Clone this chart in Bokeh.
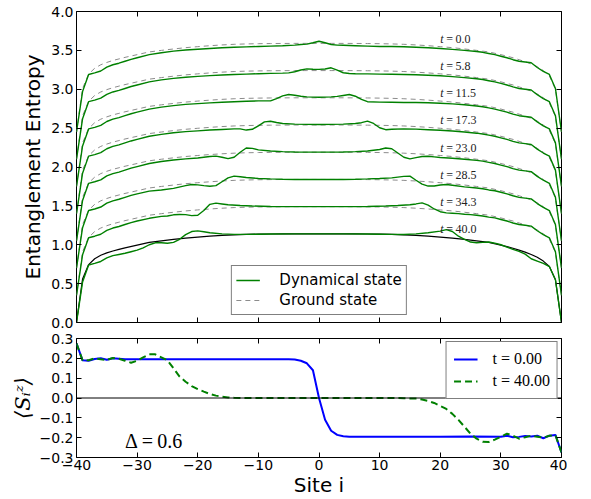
from bokeh.plotting import figure
from bokeh.layouts import column
from bokeh.models import (Range1d, FixedTicker, CustomJSTickFormatter, LinearAxis,
                          Legend, LegendItem, Span)
from bokeh.core.properties import value
from bokeh.embed import file_html
from bokeh.resources import INLINE

# ---------------- data ----------------
times = [0.0, 5.8, 11.5, 17.3, 23.0, 28.5, 34.3, 40.0]
offsets = [2.45, 2.10, 1.75, 1.40, 1.05, 0.70, 0.35, 0.0]

ground_state = [(-40, 0.0), (-39, 0.56), (-38, 0.745), (-37, 0.82), (-36, 0.865), (-35, 0.895),
                (-34, 0.92), (-33, 0.94), (-32, 0.96), (-30, 0.995), (-28, 1.03), (-26, 1.05),
                (-24, 1.068), (-22, 1.085), (-20, 1.098), (-18, 1.11), (-16, 1.12), (-14, 1.128),
                (-12, 1.133), (-10, 1.136), (-8, 1.138), (-6, 1.139), (-4, 1.14), (-2, 1.14),
                (0, 1.14), (2, 1.14), (4, 1.14), (6, 1.139), (8, 1.138), (10, 1.136), (12, 1.133),
                (14, 1.128), (16, 1.12), (18, 1.11), (20, 1.098), (22, 1.085), (24, 1.068),
                (26, 1.05), (28, 1.03), (30, 0.995), (32, 0.955), (33, 0.93), (34, 0.905),
                (35, 0.875), (36, 0.84), (37, 0.79), (38, 0.72), (39, 0.55), (40, 0.0)]

dyn_t00 = [(-40, 0.0), (-39, 0.52), (-38, 0.74), (-37, 0.76), (-36, 0.785), (-35, 0.835), (-34, 0.865),
           (-33, 0.885), (-32, 0.91), (-31, 0.935), (-30, 0.955), (-28, 0.995), (-26, 1.02), (-24, 1.04),
           (-22, 1.055), (-20, 1.065), (-18, 1.075), (-16, 1.083), (-14, 1.09), (-12, 1.095), (-10, 1.1),
           (-8, 1.105), (-6, 1.11), (-4, 1.118), (-3, 1.125), (-2, 1.13), (-1, 1.148), (0, 1.168),
           (1, 1.148), (2, 1.126), (3, 1.117), (4, 1.115), (6, 1.11), (8, 1.105), (10, 1.1), (12, 1.1),
           (14, 1.097), (16, 1.09), (18, 1.083), (20, 1.075), (22, 1.063), (24, 1.05), (26, 1.035),
           (27, 1.025), (28, 1.01), (29, 0.995), (30, 0.975), (31, 0.955), (32, 0.93), (33, 0.91),
           (34, 0.9), (35, 0.89), (36, 0.83), (37, 0.78), (38, 0.74), (39, 0.56), (40, 0.0)]

dyn_t06 = [(-40, 0.0), (-39, 0.52), (-38, 0.74), (-37, 0.76), (-36, 0.785), (-35, 0.835), (-34, 0.865),
           (-33, 0.885), (-32, 0.91), (-31, 0.935), (-30, 0.955), (-28, 0.995), (-26, 1.02), (-24, 1.04),
           (-22, 1.055), (-20, 1.065), (-18, 1.075), (-16, 1.083), (-14, 1.09), (-12, 1.095), (-10, 1.1),
           (-8, 1.104), (-6, 1.107), (-5, 1.11), (-4, 1.125), (-3, 1.148), (-2, 1.162), (-1, 1.157),
           (0, 1.155), (1, 1.16), (2, 1.176), (3, 1.145), (4, 1.112), (5, 1.103), (6, 1.1), (8, 1.098),
           (10, 1.095), (12, 1.093), (14, 1.09), (16, 1.087), (18, 1.08), (20, 1.073), (22, 1.063),
           (24, 1.05), (26, 1.035), (27, 1.025), (28, 1.01), (29, 0.995), (30, 0.975), (31, 0.955),
           (32, 0.93), (33, 0.91), (34, 0.9), (35, 0.89), (36, 0.83), (37, 0.78), (38, 0.74),
           (39, 0.56), (40, 0.0)]

dyn_t12 = [(-40, 0.0), (-39, 0.52), (-38, 0.74), (-37, 0.76), (-36, 0.785), (-35, 0.835), (-34, 0.865),
           (-33, 0.885), (-32, 0.91), (-31, 0.935), (-30, 0.955), (-28, 0.995), (-26, 1.02), (-24, 1.04),
           (-22, 1.055), (-20, 1.065), (-18, 1.075), (-16, 1.083), (-14, 1.09), (-12, 1.095), (-10, 1.1),
           (-8, 1.1), (-7, 1.13), (-6, 1.165), (-5, 1.182), (-4, 1.172), (-3, 1.16), (-2, 1.152),
           (0, 1.148), (2, 1.152), (3, 1.158), (4, 1.17), (5, 1.182), (6, 1.16), (7, 1.12), (8, 1.09),
           (10, 1.085), (12, 1.083), (14, 1.08), (16, 1.08), (18, 1.077), (20, 1.07), (22, 1.062),
           (24, 1.05), (26, 1.035), (27, 1.025), (28, 1.01), (29, 0.995), (30, 0.975), (31, 0.955),
           (32, 0.93), (33, 0.91), (34, 0.9), (35, 0.89), (36, 0.83), (37, 0.78), (38, 0.74),
           (39, 0.56), (40, 0.0)]

dyn_t17 = [(-40, 0.0), (-39, 0.52), (-38, 0.74), (-37, 0.76), (-36, 0.785), (-35, 0.835), (-34, 0.865),
           (-33, 0.885), (-32, 0.91), (-31, 0.935), (-30, 0.955), (-28, 0.995), (-26, 1.02), (-24, 1.04),
           (-22, 1.055), (-20, 1.065), (-18, 1.075), (-16, 1.083), (-14, 1.09), (-13, 1.09),
           (-12, 1.075), (-11, 1.085), (-10, 1.13), (-9, 1.18), (-8, 1.188), (-7, 1.172), (-6, 1.16),
           (-4, 1.152), (-2, 1.148), (0, 1.147), (2, 1.148), (4, 1.152), (6, 1.16), (7, 1.17),
           (8, 1.19), (9, 1.16), (10, 1.105), (11, 1.08), (12, 1.085), (14, 1.09), (16, 1.087),
           (18, 1.08), (20, 1.073), (22, 1.063), (24, 1.05), (26, 1.035), (27, 1.025), (28, 1.01),
           (29, 0.995), (30, 0.975), (31, 0.955), (32, 0.93), (33, 0.91), (34, 0.9), (35, 0.89),
           (36, 0.83), (37, 0.78), (38, 0.74), (39, 0.56), (40, 0.0)]

dyn_t23 = [(-40, 0.0), (-39, 0.52), (-38, 0.74), (-37, 0.76), (-36, 0.785), (-35, 0.835), (-34, 0.865),
           (-33, 0.885), (-32, 0.91), (-31, 0.935), (-30, 0.955), (-28, 0.995), (-26, 1.02), (-24, 1.04),
           (-22, 1.055), (-20, 1.065), (-18, 1.085), (-17, 1.09), (-16, 1.075), (-15, 1.058),
           (-14, 1.075), (-13, 1.14), (-12, 1.195), (-11, 1.19), (-10, 1.17), (-8, 1.155), (-6, 1.148),
           (-4, 1.143), (-2, 1.141), (0, 1.141), (2, 1.141), (4, 1.143), (6, 1.148), (8, 1.155),
           (10, 1.175), (11, 1.195), (12, 1.185), (13, 1.13), (14, 1.075), (15, 1.055), (16, 1.07),
           (17, 1.085), (18, 1.088), (19, 1.08), (20, 1.072), (22, 1.062), (24, 1.05), (26, 1.035),
           (27, 1.025), (28, 1.01), (29, 0.995), (30, 0.975), (31, 0.955), (32, 0.93), (33, 0.91),
           (34, 0.9), (35, 0.89), (36, 0.83), (37, 0.78), (38, 0.74), (39, 0.56), (40, 0.0)]

dyn_t28 = [(-40, 0.0), (-39, 0.52), (-38, 0.74), (-37, 0.76), (-36, 0.785), (-35, 0.835), (-34, 0.865),
           (-33, 0.885), (-32, 0.91), (-31, 0.935), (-30, 0.955), (-28, 0.99), (-26, 1.005),
           (-24, 1.025), (-22, 1.06), (-21, 1.075), (-20, 1.07), (-19, 1.06), (-18, 1.052), (-17, 1.06),
           (-16, 1.11), (-15, 1.16), (-14, 1.182), (-13, 1.175), (-12, 1.165), (-10, 1.152),
           (-8, 1.147), (-6, 1.143), (-4, 1.14), (-2, 1.14), (0, 1.14), (2, 1.14), (4, 1.14),
           (6, 1.143), (8, 1.147), (10, 1.152), (12, 1.16), (13, 1.17), (14, 1.18), (15, 1.182),
           (16, 1.13), (17, 1.08), (18, 1.055), (19, 1.055), (20, 1.068), (21, 1.075), (22, 1.065),
           (24, 1.045), (26, 1.03), (27, 1.02), (28, 1.005), (29, 0.995), (30, 0.975), (31, 0.955),
           (32, 0.93), (33, 0.91), (34, 0.9), (35, 0.89), (36, 0.83), (37, 0.78), (38, 0.74),
           (39, 0.56), (40, 0.0)]

dyn_t34 = [(-40, 0.0), (-39, 0.52), (-38, 0.74), (-37, 0.76), (-36, 0.785), (-35, 0.835), (-34, 0.865),
           (-33, 0.885), (-32, 0.91), (-31, 0.935), (-30, 0.955), (-28, 0.99), (-26, 1.015),
           (-25, 1.02), (-24, 1.035), (-23, 1.04), (-22, 1.038), (-21, 1.025), (-20, 1.03), (-19, 1.09),
           (-18, 1.17), (-17, 1.185), (-16, 1.175), (-15, 1.165), (-13, 1.155), (-11, 1.148),
           (-8, 1.142), (-4, 1.14), (0, 1.14), (4, 1.14), (8, 1.142), (11, 1.148), (13, 1.155),
           (15, 1.165), (16, 1.175), (17, 1.188), (18, 1.16), (19, 1.11), (20, 1.075), (21, 1.06),
           (22, 1.055), (23, 1.05), (24, 1.042), (25, 1.038), (26, 1.03), (27, 1.02), (28, 1.005),
           (29, 0.995), (30, 0.975), (31, 0.955), (32, 0.93), (33, 0.91), (34, 0.9), (35, 0.89),
           (36, 0.83), (37, 0.78), (38, 0.74), (39, 0.56), (40, 0.0)]

dyn_t40 = [(-40, 0.0), (-39, 0.52), (-38, 0.74), (-37, 0.76), (-36, 0.785), (-35, 0.83), (-34, 0.86),
           (-33, 0.875), (-32, 0.89), (-31, 0.91), (-30, 0.93), (-29, 0.96), (-28, 1.0), (-27, 1.025),
           (-26, 1.025), (-25, 1.02), (-24, 1.03), (-23, 1.07), (-22, 1.13), (-21, 1.17), (-20, 1.178),
           (-19, 1.168), (-18, 1.155), (-16, 1.14), (-14, 1.133), (-12, 1.133), (-10, 1.136),
           (-8, 1.138), (-4, 1.14), (0, 1.14), (4, 1.14), (8, 1.138), (10, 1.136), (12, 1.133),
           (14, 1.132), (16, 1.14), (18, 1.155), (20, 1.175), (21, 1.195), (22, 1.17), (23, 1.11),
           (24, 1.07), (25, 1.035), (26, 1.025), (27, 1.03), (28, 1.035), (29, 1.02), (30, 1.0),
           (31, 0.97), (32, 0.94), (33, 0.915), (34, 0.88), (35, 0.82), (36, 0.79), (37, 0.76),
           (38, 0.72), (39, 0.55), (40, 0.0)]

dynamical = [dyn_t00, dyn_t06, dyn_t12, dyn_t17, dyn_t23, dyn_t28, dyn_t34, dyn_t40]

sz_t0 = [(-40, 0.275), (-39, 0.19), (-38, 0.188), (-37, 0.197), (-36, 0.2), (-35, 0.193), (-34, 0.2),
         (-33, 0.198), (-32, 0.195), (-30, 0.195), (-25, 0.195), (-20, 0.195), (-10, 0.195), (-5, 0.195),
         (-4, 0.194), (-3, 0.188), (-2, 0.175), (-1, 0.14), (0, 0.0), (1, -0.11), (2, -0.165),
         (3, -0.186), (4, -0.193), (5, -0.195), (10, -0.195), (20, -0.195), (25, -0.194), (30, -0.195),
         (31, -0.19), (32, -0.198), (33, -0.196), (34, -0.192), (35, -0.194), (36, -0.19), (37, -0.203),
         (38, -0.19), (39, -0.186), (40, -0.275)]

sz_t40 = [(-40, 0.275), (-39, 0.19), (-38, 0.19), (-37, 0.2), (-36, 0.195), (-35, 0.192), (-34, 0.202),
          (-33, 0.198), (-32, 0.188), (-31, 0.178), (-30, 0.188), (-29, 0.205), (-28, 0.22),
          (-27, 0.22), (-26, 0.205), (-25, 0.19), (-24, 0.15), (-23, 0.108), (-22, 0.082), (-21, 0.06),
          (-20, 0.045), (-19, 0.032), (-18, 0.02), (-17, 0.012), (-16, 0.006), (-15, 0.003),
          (-14, 0.001), (-12, 0.0), (0, 0.0), (12, 0.0), (14, -0.001), (16, -0.003), (17, -0.008),
          (18, -0.015), (19, -0.025), (20, -0.04), (21, -0.055), (22, -0.08), (23, -0.11), (24, -0.145),
          (25, -0.18), (26, -0.205), (27, -0.22), (28, -0.222), (29, -0.21), (30, -0.195), (31, -0.18),
          (32, -0.19), (33, -0.205), (34, -0.198), (35, -0.19), (36, -0.195), (37, -0.2), (38, -0.19),
          (39, -0.187), (40, -0.275)]

entropy_ticks = [0.0, 0.5, 1.0, 1.5, 2.0, 2.5, 3.0, 3.5, 4.0]
sz_ticks = [-0.3, -0.2, -0.1, 0.0, 0.1, 0.2, 0.3]
site_ticks = [-40, -30, -20, -10, 0, 10, 20, 30, 40]

# ---------------- style helpers ----------------
SANS = "DejaVu Sans"
SERIF = "Liberation Serif"
GREEN = "#008000"
GRAY = "#8c8c8c"


def fmt(digits):
    return CustomJSTickFormatter(code="return tick.toFixed(%d).replace('-', '\u2212');" % digits)


EMPTY = CustomJSTickFormatter(code="return '';")


def style_axis(ax, ticks, digits, show_labels):
    ax.ticker = FixedTicker(ticks=ticks)
    ax.major_tick_in = 5
    ax.major_tick_out = 0
    ax.minor_tick_in = 0
    ax.minor_tick_out = 0
    ax.major_tick_line_color = "black"
    ax.axis_line_color = None
    ax.axis_label_text_color = "black"
    if show_labels:
        ax.formatter = fmt(digits)
        ax.major_label_text_font = SANS
        ax.major_label_text_font_size = "14px"
        ax.major_label_text_color = "black"
        ax.major_label_standoff = 3
    else:
        ax.formatter = EMPTY
        ax.major_label_text_font_size = "1px"
        ax.major_label_standoff = 0


def base_fig(yr, frame_h, top, bottom):
    p = figure(frame_width=485, frame_height=frame_h, x_range=Range1d(-40, 40), y_range=yr,
               output_backend="svg", toolbar_location=None,
               min_border_left=76, min_border_right=6, min_border_top=top, min_border_bottom=bottom)
    p.xgrid.visible = False
    p.ygrid.visible = False
    p.outline_line_color = "black"
    p.outline_line_width = 1
    p.outline_line_alpha = 1
    p.background_fill_color = "white"
    p.border_fill_color = "white"
    return p


# ---------------- top panel ----------------
p1 = base_fig(Range1d(0, 4), 311, 11, 7)
style_axis(p1.xaxis[0], site_ticks, 0, False)
style_axis(p1.yaxis[0], entropy_ticks, 1, True)
p1.yaxis[0].axis_label = "Entanglement Entropy"
p1.yaxis[0].axis_label_text_font = SANS
p1.yaxis[0].axis_label_text_font_size = "20px"
p1.yaxis[0].axis_label_text_font_style = "normal"
p1.yaxis[0].axis_label_standoff = 3
ax_r = LinearAxis()
style_axis(ax_r, entropy_ticks, 1, False)
p1.add_layout(ax_r, "right")
ax_t = LinearAxis()
style_axis(ax_t, site_ticks, 0, False)
p1.add_layout(ax_t, "above")

gs_x = [s for s, _ in ground_state]
gs_y = [v for _, v in ground_state]

r_gs_dash = None
for off in offsets:
    if off > 0:
        r = p1.line(gs_x, [v + off for v in gs_y], line_color=GRAY, line_width=1, line_dash="5 4")
        if r_gs_dash is None:
            r_gs_dash = r
p1.line(gs_x, gs_y, line_color="black", line_width=1.2)

r_dyn = None
for curve, off in zip(dynamical, offsets):
    r = p1.line([s for s, _ in curve], [v + off for _, v in curve], line_color=GREEN, line_width=1.4)
    if r_dyn is None:
        r_dyn = r

label_x = [20.0] * len(times)
label_y = [off + 1.2 for off in offsets]
p1.text(x=label_x, y=label_y, text=["t"] * len(times), text_font=value(SERIF),
        text_font_style="italic", text_font_size="12px", text_baseline="middle", text_align="left",
        text_color="#222222")
p1.text(x=label_x, y=label_y, text=["=\u2009%.1f" % t for t in times], x_offset=6,
        text_font=value(SERIF), text_font_size="12px", text_baseline="middle", text_align="left",
        text_color="#222222")

leg1 = Legend(items=[LegendItem(label="Dynamical state", renderers=[r_dyn]),
                     LegendItem(label="Ground state", renderers=[r_gs_dash])],
              location="bottom_center", margin=7, padding=4, spacing=0,
              glyph_width=24, label_standoff=20, label_height=15,
              label_text_font=SANS, label_text_font_size="15px", label_text_color="black",
              border_line_color="black", border_line_width=1, background_fill_alpha=1)
p1.add_layout(leg1)

# ---------------- bottom panel ----------------
p2 = base_fig(Range1d(-0.3, 0.3), 119, 9, 0)
style_axis(p2.xaxis[0], site_ticks, 0, True)
style_axis(p2.yaxis[0], sz_ticks, 1, True)
p2.xaxis[0].axis_label = "Site i"
p2.xaxis[0].axis_label_text_font = SANS
p2.xaxis[0].axis_label_text_font_size = "20px"
p2.xaxis[0].axis_label_text_font_style = "normal"
p2.xaxis[0].axis_label_standoff = 0
p2.xaxis[0].major_label_standoff = 2
p2.yaxis[0].axis_label = "\u27e8S\u1d62\u1dbb\u27e9"
p2.yaxis[0].axis_label_text_font = "DejaVu Serif"
p2.yaxis[0].axis_label_text_font_size = "21px"
p2.yaxis[0].axis_label_text_font_style = "italic"
p2.yaxis[0].axis_label_standoff = 2
ax_r2 = LinearAxis()
style_axis(ax_r2, sz_ticks, 1, False)
p2.add_layout(ax_r2, "right")
ax_t2 = LinearAxis()
style_axis(ax_t2, site_ticks, 0, False)
p2.add_layout(ax_t2, "above")

p2.add_layout(Span(location=0, dimension="width", line_color="black", line_width=1))

r_b = p2.line([s for s, _ in sz_t0], [v for _, v in sz_t0], line_color="#0000ff", line_width=2)
r_g = p2.line([s for s, _ in sz_t40], [v for _, v in sz_t40], line_color=GREEN, line_width=2,
              line_dash="7 4")

p2.text(x=[-32], y=[-0.215], text=["\u0394\u2009=\u20090.6"], text_font=value(SERIF),
        text_font_size="20px", text_baseline="middle", text_align="left", text_color="black")

leg2 = Legend(items=[LegendItem(label="t = %.2f" % times[0], renderers=[r_b]),
                     LegendItem(label="t = %.2f" % times[-1], renderers=[r_g])],
              location="top_right", margin=3, padding=7, spacing=2,
              glyph_width=24, label_standoff=15, label_height=17,
              label_text_font=SERIF, label_text_font_size="16px", label_text_color="black",
              border_line_color="black", border_line_width=1, background_fill_alpha=1)
p2.add_layout(leg2)

layout = column(p1, p2, spacing=0)

with open("out.html", "w", encoding="utf-8") as f:
    f.write(file_html(layout, INLINE))
